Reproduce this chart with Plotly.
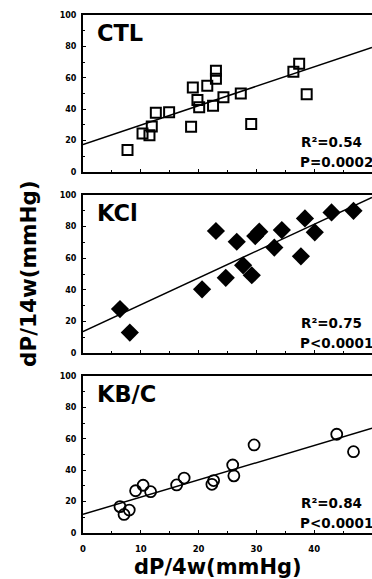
import plotly.graph_objects as go

# ---------------- data ----------------
panel_names = ["CTL", "KCl", "KB/C"]

ctl_x = [7.7, 10.3, 11.5, 11.9, 12.6, 14.9, 18.7, 19.0, 19.8, 20.1, 21.5, 22.5, 23.0, 23.0, 24.3, 27.3, 29.1, 36.4, 37.4, 38.7]
ctl_y = [14.0, 24.5, 23.4, 29.0, 37.8, 38.0, 28.8, 53.9, 45.9, 41.2, 55.0, 42.2, 59.4, 64.5, 47.6, 50.0, 30.5, 63.9, 68.9, 49.5]

kcl_x = [6.4, 8.1, 20.6, 23.0, 24.7, 26.6, 27.7, 29.2, 29.8, 30.5, 33.1, 34.4, 37.7, 38.4, 40.1, 43.0, 46.8]
kcl_y = [27.8, 12.9, 40.3, 77.2, 47.6, 70.4, 55.5, 49.2, 74.0, 76.8, 66.7, 77.8, 61.2, 85.2, 76.4, 89.0, 90.0]

kbc_x = [6.4, 7.1, 8.0, 9.1, 10.4, 11.7, 16.2, 17.5, 22.3, 22.6, 25.9, 26.1, 29.6, 43.9, 46.8]
kbc_y = [16.8, 11.8, 14.6, 26.9, 30.4, 26.3, 30.6, 35.0, 31.0, 33.4, 43.3, 36.4, 56.1, 62.9, 51.8]

fit_x = [0, 50]
ctl_fit_y = [17.5, 79.4]
kcl_fit_y = [13.5, 98.5]
kbc_fit_y = [11.9, 66.7]

stats_r2 = ["R\u00b2=0.54", "R\u00b2=0.75", "R\u00b2=0.84"]
stats_p = ["P=0.0002", "P<0.0001", "P<0.0001"]

x_ticks = [0, 10, 20, 30, 40, 50]
y_ticks = [0, 20, 40, 60, 80, 100]

x_title = "dP/4w(mmHg)"
y_title = "dP/14w(mmHg)"

# ---------------- figure ----------------
W, H = 372, 579
FONT = "DejaVu Sans, Liberation Sans, Arial, sans-serif"

def py(p):
    return 1 - p / H

def pxx(p):
    return p / W

panel_px = [(15, 172), (195, 353), (376, 533)]  # top, bottom in pixels
left_px = 83

series = [
    (ctl_x, ctl_y, ctl_fit_y, dict(symbol="square-open", size=10, color="black", line=dict(width=2, color="black"))),
    (kcl_x, kcl_y, kcl_fit_y, dict(symbol="diamond", size=14, color="black", line=dict(width=0))),
    (kbc_x, kbc_y, kbc_fit_y, dict(symbol="circle-open", size=11, color="black", line=dict(width=1.8, color="black"))),
]

fig = go.Figure()
annotations = []
layout_axes = {}

for i, (xs, ys, fy, mk) in enumerate(series):
    n = "" if i == 0 else str(i + 1)
    xa, ya = "x" + n, "y" + n
    fig.add_trace(go.Scatter(x=fit_x, y=fy, mode="lines", line=dict(color="black", width=1.5),
                             xaxis=xa, yaxis=ya, showlegend=False, hoverinfo="skip"))
    fig.add_trace(go.Scatter(x=xs, y=ys, mode="markers", marker=mk,
                             xaxis=xa, yaxis=ya, showlegend=False))
    top, bot = panel_px[i]
    layout_axes["xaxis" + n] = dict(
        domain=[pxx(left_px), 1], range=[0, 50], anchor=ya,
        showline=True, linecolor="black", linewidth=2, mirror=True,
        showgrid=False, zeroline=False,
        ticks="inside", ticklen=3, tickwidth=1, tickcolor="black",
        tickvals=x_ticks, showticklabels=(i == 2),
        ticklabelstandoff=7,
        tickfont=dict(family=FONT, size=8.5, color="black", weight="bold"),
        minor=dict(ticks="inside", ticklen=2, dtick=5, tickcolor="black"),
    )
    layout_axes["yaxis" + n] = dict(
        domain=[py(bot), py(top)], range=[0, 100], anchor=xa,
        showline=True, linecolor="black", linewidth=2, mirror=False,
        showgrid=False, zeroline=False,
        ticks="inside", ticklen=3, tickwidth=1, tickcolor="black",
        tickvals=y_ticks, ticklabelstandoff=3,
        tickfont=dict(family=FONT, size=8, color="black", weight="bold"),
        minor=dict(ticks="inside", ticklen=2, dtick=10, tickcolor="black"),
    )
    annotations.append(dict(text=panel_names[i], xref="paper", yref="paper",
                            x=pxx(95), y=py(top + 18), xanchor="left", yanchor="middle",
                            showarrow=False, font=dict(family=FONT, size=22.5, color="black", weight="bold")))
    annotations.append(dict(text=stats_r2[i], xref="paper", yref="paper",
                            x=pxx(299), y=py(bot - 30), xanchor="left", yanchor="middle",
                            showarrow=False, font=dict(family=FONT, size=13.5, color="black", weight="bold")))
    annotations.append(dict(text=stats_p[i], xref="paper", yref="paper",
                            x=pxx(298), y=py(bot - 10), xanchor="left", yanchor="middle",
                            showarrow=False, font=dict(family=FONT, size=13.5, color="black", weight="bold")))

annotations.append(dict(text=x_title, xref="paper", yref="paper", x=pxx(218), y=py(566.5),
                        xanchor="center", yanchor="middle", showarrow=False,
                        font=dict(family=FONT, size=21, color="black", weight="bold")))
annotations.append(dict(text=y_title, xref="paper", yref="paper", x=pxx(28), y=py(274),
                        xanchor="center", yanchor="middle", showarrow=False, textangle=-90,
                        font=dict(family=FONT, size=21.5, color="black", weight="bold")))

fig.update_layout(
    width=W, height=H,
    margin=dict(l=0, r=0, t=0, b=0, autoexpand=False),
    paper_bgcolor="white", plot_bgcolor="white",
    annotations=annotations,
    **layout_axes,
)

fig.write_html(
    "out.html",
    config={"displayModeBar": False},
    post_script="document.body.style.margin='0';document.body.style.padding='0';document.body.style.overflow='hidden';",
)
